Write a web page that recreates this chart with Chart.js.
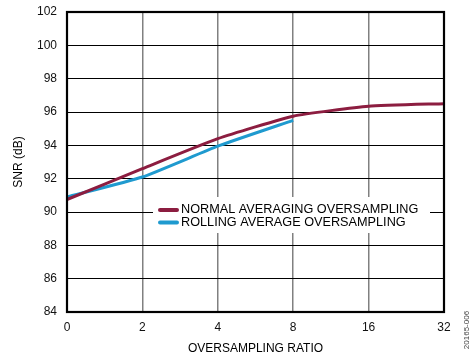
<!DOCTYPE html>
<html>
<head>
<meta charset="utf-8">
<script src="https://cdn.jsdelivr.net/npm/chart.js@4/dist/chart.umd.min.js"></script>
<style>
html,body{margin:0;padding:0;background:#fff;}
#wrap{width:476px;height:363px;position:relative;}
</style>
</head>
<body>
<div id="wrap"><canvas id="c" width="476" height="363"></canvas></div>
<script>
const categories = ['0', '2', '4', '8', '16', '32'];
const normalAveraging = [90.75, 92.6, 94.4, 95.75, 96.35, 96.5];
const rollingAverage = [90.9, 92.1, 93.95, 95.5, null, null];
const yTicks = [84, 86, 88, 90, 92, 94, 96, 98, 100, 102];
const seriesNames = ['NORMAL AVERAGING OVERSAMPLING', 'ROLLING AVERAGE OVERSAMPLING'];
const xTitle = 'OVERSAMPLING RATIO';
const yTitle = 'SNR (dB)';
const figId = '20165-006';

const RED = '#8C1D40';
const BLUE = '#1F9ACF';
const FONT = '"Liberation Sans", Arial, sans-serif';

const framePlugin = {
  id: 'frame',
  afterDraw(chart) {
    const {ctx, chartArea: a} = chart;
    ctx.save();
    const lx = 153, ly = 197, lw = 277, lh = 36;
    ctx.fillStyle = '#fff';
    ctx.fillRect(lx, ly, lw, lh);
    const rows = [[RED, 210, seriesNames[0]], [BLUE, 222.5, seriesNames[1]]];
    ctx.lineCap = 'round';
    ctx.lineWidth = 4;
    for (const [col, y, txt] of rows) {
      ctx.strokeStyle = col;
      ctx.beginPath();
      ctx.moveTo(160, y);
      ctx.lineTo(177, y);
      ctx.stroke();
      ctx.fillStyle = '#000';
      ctx.font = '12.7px ' + FONT;
      ctx.textBaseline = 'middle';
      ctx.textAlign = 'left';
      ctx.fillText(txt, 181, y - 0.5);
    }
    ctx.strokeStyle = '#000';
    ctx.lineWidth = 2.2;
    ctx.lineCap = 'butt';
    ctx.strokeRect(a.left, a.top, a.right - a.left, a.bottom - a.top);
    ctx.translate(467, 330);
    ctx.rotate(-Math.PI / 2);
    ctx.fillStyle = '#444';
    ctx.font = '8px ' + FONT;
    ctx.textAlign = 'center';
    ctx.textBaseline = 'middle';
    ctx.fillText(figId, 0, 0);
    ctx.restore();
  }
};

new Chart(document.getElementById('c'), {
  type: 'line',
  data: {
    labels: categories,
    datasets: [
      {label: seriesNames[0], data: normalAveraging, borderColor: RED, backgroundColor: RED, borderWidth: 3, pointRadius: 0, tension: 0.15},
      {label: seriesNames[1], data: rollingAverage, borderColor: BLUE, backgroundColor: BLUE, borderWidth: 3, pointRadius: 0, tension: 0.15}
    ]
  },
  options: {
    responsive: false,
    animation: false,
    events: [],
    layout: {padding: {left: 0, right: 32, top: 12, bottom: 0}},
    plugins: {legend: {display: false}, tooltip: {enabled: false}},
    scales: {
      x: {
        type: 'category',
        offset: false,
        grid: {color: '#808080', lineWidth: 1.5, drawTicks: false},
        border: {display: false},
        ticks: {color: '#111', font: {family: FONT, size: 12}, padding: 8, maxRotation: 0, autoSkip: false},
        title: {display: true, text: xTitle, color: '#000', font: {family: FONT, size: 12}, padding: {top: 0, bottom: 7}},
        afterFit(s) { s.height = 51; s.paddingLeft = 0; s.paddingRight = 0; }
      },
      y: {
        min: 84, max: 102,
        afterBuildTicks(s) { s.ticks = yTicks.map(v => ({value: v})); },
        grid: {color: '#000', lineWidth: 1, drawTicks: false},
        border: {display: false},
        ticks: {color: '#111', font: {family: FONT, size: 12}, padding: 10},
        title: {display: true, text: yTitle, color: '#000', font: {family: FONT, size: 12}, padding: {top: 11, bottom: 0}},
        afterFit(s) { s.width = 67; s.paddingTop = 0; s.paddingBottom = 0; }
      }
    }
  },
  plugins: [framePlugin]
});
</script>
</body>
</html>
